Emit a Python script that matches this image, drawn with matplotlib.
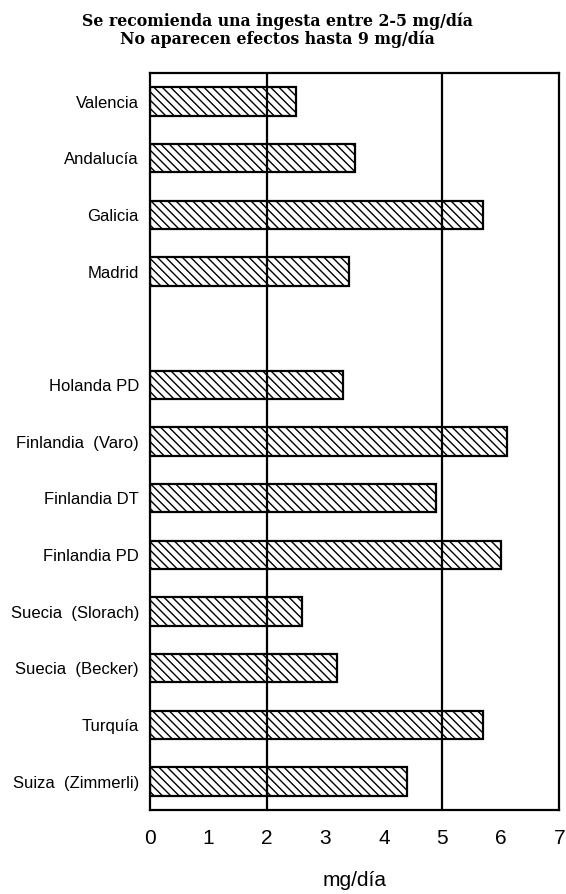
import matplotlib.pyplot as plt

# ingesta media por región/estudio (mg/día)
regiones = ['Valencia', 'Andalucía', 'Galicia', 'Madrid', '',
            'Holanda PD', 'Finlandia  (Varo)', 'Finlandia DT', 'Finlandia PD',
            'Suecia  (Slorach)', 'Suecia  (Becker)', 'Turquía', 'Suiza  (Zimmerli)']
ingesta = [2.5, 3.5, 5.7, 3.4, None,
           3.3, 6.1, 4.9, 6.0,
           2.6, 3.2, 5.7, 4.4]
limites = [2, 5]
ticks_x = [0, 1, 2, 3, 4, 5, 6, 7]

plt.rcParams['hatch.linewidth'] = 1.0

fig = plt.figure(figsize=(5.66, 8.94), dpi=100)
ax = fig.add_axes([0.265, 0.094, 0.723, 0.824])

pos = list(range(len(regiones)))
for p, v in zip(pos, ingesta):
    if v is None:
        continue
    ax.barh(p, v, height=0.5, color='white', edgecolor='black',
            hatch='\\\\\\\\', linewidth=1.6, zorder=2)

for l in limites:
    ax.axvline(l, color='black', linewidth=1.6, zorder=3)

ax.set_xlim(0, 7)
ax.set_ylim(len(regiones) - 0.5, -0.5)
ax.set_yticks(pos)
ax.set_yticklabels(regiones, family='Liberation Sans', fontsize=12)
ax.set_xticks(ticks_x)
ax.set_xticklabels([str(t) for t in ticks_x], family='Liberation Sans', fontsize=15)
ax.tick_params(axis='both', length=0)
ax.tick_params(axis='y', pad=8)
ax.tick_params(axis='x', pad=14)
for s in ax.spines.values():
    s.set_linewidth(1.6)

ax.set_xlabel('mg/día', family='Liberation Sans', fontsize=15, labelpad=16)

fig.text(0.49, 0.966, 'Se recomienda una ingesta entre 2-5 mg/día\nNo aparecen efectos hasta 9 mg/día',
         ha='center', va='center', family='DejaVu Serif', fontweight='bold',
         fontsize=11.3, linespacing=1.0)

plt.savefig('out.png')
